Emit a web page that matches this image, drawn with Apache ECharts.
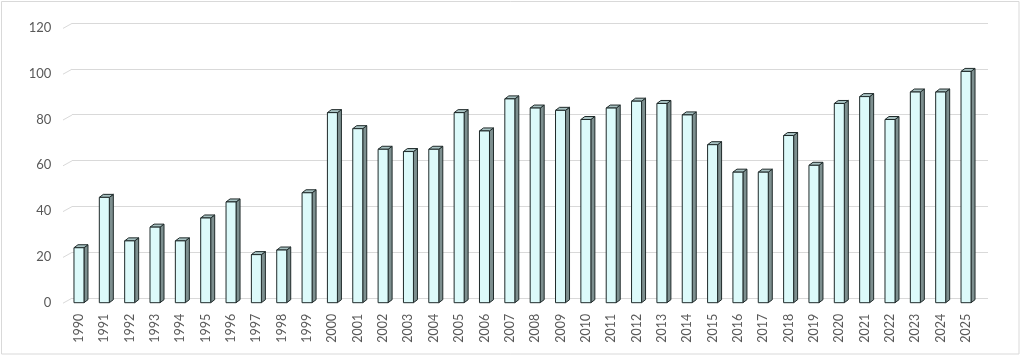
<!DOCTYPE html>
<html><head><meta charset="utf-8">
<script src="https://cdn.jsdelivr.net/npm/echarts@6/dist/echarts.min.js"></script>
<style>html,body{margin:0;padding:0;background:#fff}#c{width:1024px;height:356px}</style>
</head><body><div id="c"></div>
<script>
const years = ['1990','1991','1992','1993','1994','1995','1996','1997','1998','1999','2000','2001','2002','2003','2004','2005','2006','2007','2008','2009','2010','2011','2012','2013','2014','2015','2016','2017','2018','2019','2020','2021','2022','2023','2024','2025'];
const values = [24,46,27,33,27,37,44,21,23,48,83,76,67,66,67,83,75,89,85,84,80,85,88,87,82,69,57,57,73,60,87,90,80,92,92,101];
const yTicks = [0,20,40,60,80,100,120];

const chart = echarts.init(document.getElementById('c'), null, {renderer:'canvas'});
const FONT = 'Lato';
const DX = 4, DY = -3, BW = 10;

function renderBar(params, api){
  const idx = api.value(0), v = api.value(1);
  const top = api.coord([idx, v]);
  const bot = api.coord([idx, 0]);
  const x0 = top[0] - BW/2, x1 = top[0] + BW/2;
  const yt = top[1], yb = bot[1];
  const st = {stroke:'#1f2a2a', lineWidth:1, lineJoin:'round'};
  return {type:'group', children:[
    {type:'polygon', shape:{points:[[x1,yt],[x1+DX,yt+DY],[x1+DX,yb+DY],[x1,yb]]}, style:Object.assign({fill:'#7d8f8f'},st)},
    {type:'polygon', shape:{points:[[x0,yt],[x0+DX,yt+DY],[x1+DX,yt+DY],[x1,yt]]}, style:Object.assign({fill:'#a8c2c2'},st)},
    {type:'rect', shape:{x:x0, y:yt, width:BW, height:yb-yt}, style:Object.assign({fill:'#dcfafa'},st)}
  ]};
}

// diagonal stubs connecting front labels to back-wall gridlines
function renderStub(params, api){
  const v = api.value(0);
  const p = api.coord([0, v]);
  const fx = 63, fy = p[1] + 0.5;
  return {type:'line', shape:{x1:fx, y1:fy, x2:fx+9, y2:fy-5}, style:{stroke:'#d9d9d9', lineWidth:1}};
}

chart.setOption({
  animation:false,
  backgroundColor:'#fff',
  graphic:[{type:'rect', shape:{x:1.5, y:1.5, width:1017.5, height:352.5}, style:{fill:null, stroke:'#d9d9d9', lineWidth:1}, silent:true, z:-10}],
  grid:[
    {left:66.3, right:45.3, top:27.9, bottom:53.3},
    {left:72, right:36, top:23, bottom:58}
  ],
  xAxis:[
    {type:'category', gridIndex:0, data:years,
     axisLine:{show:false}, axisTick:{show:false},
     axisLabel:{rotate:90, interval:0, margin:11, color:'#595959', fontFamily:FONT, fontSize:12.5}},
    {type:'category', gridIndex:1, data:years, show:false}
  ],
  yAxis:[
    {type:'value', gridIndex:0, min:0, max:120, interval:20,
     splitLine:{show:false}, axisLine:{show:false}, axisTick:{show:false},
     axisLabel:{margin:15, color:'#595959', fontFamily:FONT, fontSize:13}},
    {type:'value', gridIndex:1, min:0, max:120, interval:20,
     splitLine:{show:true, lineStyle:{color:'#d9d9d9', width:1}},
     axisLine:{show:false}, axisTick:{show:false}, axisLabel:{show:false}}
  ],
  series:[
    {type:'custom', xAxisIndex:0, yAxisIndex:0, renderItem:renderStub, data:yTicks.map(t=>[t]), encode:{y:0}, silent:true, z:1},
    {type:'custom', xAxisIndex:0, yAxisIndex:0, renderItem:renderBar, data:values.map((v,i)=>[i,v]), encode:{x:0,y:1}, z:5}
  ]
});
</script></body></html>
